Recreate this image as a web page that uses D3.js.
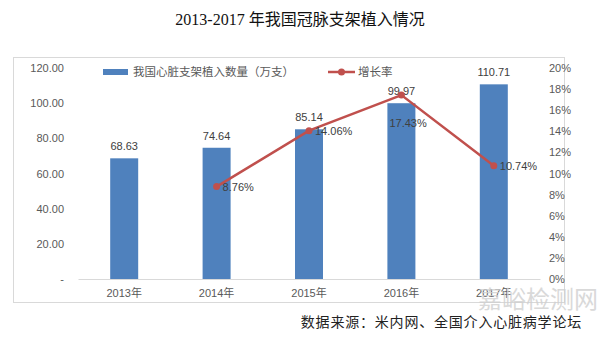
<!DOCTYPE html>
<html><head><meta charset="utf-8">
<script src="https://cdn.jsdelivr.net/npm/d3@7"></script>
<style>body{margin:0;background:#fff}svg{display:block}</style>
</head><body>
<script>
const years = ["2013年","2014年","2015年","2016年","2017年"];
const volumes = [68.63, 74.64, 85.14, 99.97, 110.71];
const growth = [null, 8.76, 14.06, 17.43, 10.74];
const leftTicks = [0,20,40,60,80,100,120];
const rightTicks = [0,2,4,6,8,10,12,14,16,18,20];
const title = "2013-2017 年我国冠脉支架植入情况";
const barName = "我国心脏支架植入数量（万支）";
const lineName = "增长率";
const source = "数据来源：米内网、全国介入心脏病学论坛";

const W=600,H=340;
const svg=d3.select("body").append("svg").attr("width",W).attr("height",H);
const cjk='"Liberation Sans","Noto Sans CJK SC",sans-serif';
const grey="#595959";

svg.append("text").attr("x",300).attr("y",25).attr("text-anchor","middle")
  .attr("font-family",'"Liberation Serif","Noto Sans CJK SC",serif').attr("font-size",16)
  .attr("fill","#111").text(title);

svg.append("rect").attr("x",13.5).attr("y",57.5).attr("width",551).attr("height",245)
  .attr("fill","none").attr("stroke","#d9d9d9");

const yL=d3.scaleLinear().domain([0,120]).range([279,68]);
const yR=d3.scaleLinear().domain([0,20]).range([279,68]);

const axL=d3.axisLeft(yL).tickValues(leftTicks).tickSize(0).tickPadding(0)
  .tickFormat(d=>d===0?"-":d3.format(".2f")(d));
const gL=svg.append("g").attr("transform","translate(64,0)").call(axL);
gL.select(".domain").remove();
gL.selectAll("text").attr("font-family",cjk).attr("font-size",11).attr("fill",grey);

const axR=d3.axisRight(yR).tickValues(rightTicks).tickSize(0).tickPadding(0).tickFormat(d=>d+"%");
const gR=svg.append("g").attr("transform","translate(549,0)").call(axR);
gR.select(".domain").remove();
gR.selectAll("text").attr("font-family",cjk).attr("font-size",11).attr("fill",grey);

const xb=d3.scaleBand().domain(years).range([78,540]);
const axB=d3.axisBottom(xb).tickSize(0).tickPadding(10);
const gB=svg.append("g").attr("transform","translate(0,279)").call(axB);
gB.select(".domain").attr("stroke","#d9d9d9");
gB.selectAll("text").attr("font-family",cjk).attr("font-size",11).attr("fill",grey);

svg.selectAll("rect.bar").data(years).enter().append("rect").attr("class","bar")
  .attr("x",d=>xb(d)+xb.bandwidth()/2-14).attr("width",28)
  .attr("y",(d,i)=>yL(volumes[i])).attr("height",(d,i)=>yL(0)-yL(volumes[i]))
  .attr("fill","#4f81bd");

svg.selectAll("text.bl").data(years).enter().append("text").attr("class","bl")
  .attr("x",d=>xb(d)+xb.bandwidth()/2).attr("y",(d,i)=>yL(volumes[i])-8)
  .attr("text-anchor","middle").attr("font-family",cjk).attr("font-size",11).attr("fill","#404040")
  .text((d,i)=>d3.format(".2f")(volumes[i]));

const pts=years.map((d,i)=>({x:xb(d)+xb.bandwidth()/2,v:growth[i]})).filter(p=>p.v!==null);
svg.append("path").datum(pts).attr("fill","none").attr("stroke","#c0504d").attr("stroke-width",2.5)
  .attr("d",d3.line().x(p=>p.x).y(p=>yR(p.v)));
svg.selectAll("circle.pt").data(pts).enter().append("circle").attr("class","pt")
  .attr("cx",p=>p.x).attr("cy",p=>yR(p.v)).attr("r",3.5).attr("fill","#c0504d");
svg.selectAll("text.ll").data(pts).enter().append("text").attr("class","ll")
  .attr("x",(p,i)=>p.x+(i===2?-12:6)).attr("y",(p,i)=>yR(p.v)+(i===2?32:4))
  .attr("font-family",cjk).attr("font-size",11).attr("fill","#404040")
  .text(p=>d3.format(".2f")(p.v)+"%");

// legend
svg.append("rect").attr("x",103).attr("y",69).attr("width",25).attr("height",6).attr("fill","#4f81bd");
svg.append("text").attr("x",133).attr("y",76).attr("font-family",cjk).attr("font-size",11.5).attr("fill",grey).text(barName);
svg.append("line").attr("x1",328).attr("x2",355).attr("y1",72).attr("y2",72).attr("stroke","#c0504d").attr("stroke-width",2.5);
svg.append("circle").attr("cx",341.5).attr("cy",72).attr("r",3.5).attr("fill","#c0504d");
svg.append("text").attr("x",358).attr("y",76).attr("font-family",cjk).attr("font-size",11.5).attr("fill",grey).text(lineName);

// watermark
svg.append("text").attr("x",538).attr("y",308).attr("text-anchor","middle").attr("font-family",cjk)
  .attr("font-size",24).attr("fill","#d0d0d0").attr("opacity",0.8).text("嘉峪检测网");

svg.append("text").attr("x",582).attr("y",327).attr("text-anchor","end")
  .attr("font-family",'"Noto Sans CJK SC",sans-serif').attr("font-size",14).attr("letter-spacing",0.8)
  .attr("fill","#222").text(source);
</script>
</body></html>
